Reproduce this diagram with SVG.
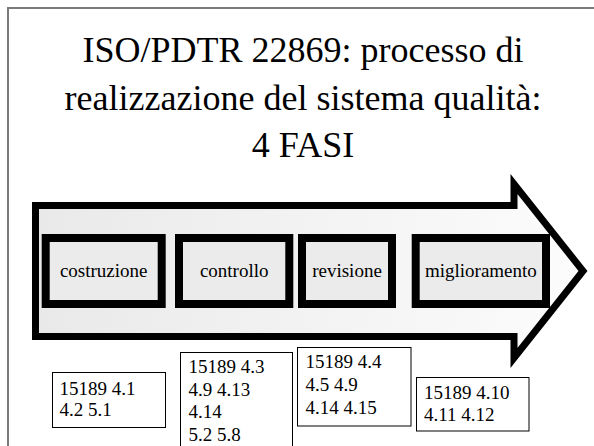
<svg xmlns="http://www.w3.org/2000/svg" width="594" height="446" viewBox="0 0 594 446">
  <defs>
    <linearGradient id="arrowFill" x1="0" y1="0" x2="1" y2="0">
      <stop offset="0" stop-color="#e9e9e9"/>
      <stop offset="1" stop-color="#fcfcfc"/>
    </linearGradient>
  </defs>
  <style>
    text { font-family: 'Liberation Serif', 'DejaVu Serif', serif; fill: #000; }
    .frame { stroke: #7a7a7a; stroke-width: 2; fill: none; }
    .title { font-size: 36px; text-anchor: middle; }
    .phase rect { fill: #ebebeb; stroke: #000; stroke-width: 8; }
    .phase text { font-size: 19px; text-anchor: middle; }
    .ref rect { fill: #fff; stroke: #000; stroke-width: 1; }
    .ref text { font-size: 19px; }
  </style>

  <rect width="594" height="446" fill="#fff"/>

  <!-- slide frame (top and left edges) -->
  <path class="frame" d="M8,446 V8 H594"/>

  <!-- title -->
  <g id="title" font-family="Liberation Serif">
    <text class="title" x="303" y="62">ISO/PDTR 22869: processo di</text>
    <text class="title" x="303" y="110">realizzazione del sistema qualità:</text>
    <text class="title" x="303" y="157">4 FASI</text>
  </g>

  <!-- block arrow carrying the phases -->
  <g id="process-arrow">
    <path d="M35.5,205.5 H514 V184 L583,271 L514,358 V336.5 H35.5 Z" fill="url(#arrowFill)" stroke="#000" stroke-width="7" stroke-linejoin="miter" stroke-miterlimit="10"/>
  </g>

  <!-- phases -->
  <g id="phase-costruzione" class="phase">
    <rect x="45.7" y="238" width="116" height="66"/>
    <text x="103.7" y="277">costruzione</text>
  </g>
  <g id="phase-controllo" class="phase">
    <rect x="179" y="238" width="110.3" height="66"/>
    <text x="234.2" y="277">controllo</text>
  </g>
  <g id="phase-revisione" class="phase">
    <rect x="302" y="238" width="90" height="66"/>
    <text x="347" y="277">revisione</text>
  </g>
  <g id="phase-miglioramento" class="phase">
    <rect x="415.7" y="238" width="130.3" height="66"/>
    <text x="480.9" y="277">miglioramento</text>
  </g>

  <!-- standard clause references -->
  <g id="ref-costruzione" class="ref">
    <rect x="52.5" y="372.5" width="113" height="55"/>
    <text x="59.5" y="395">15189 4.1</text>
    <text x="59.5" y="416">4.2 5.1</text>
  </g>
  <g id="ref-controllo" class="ref">
    <rect x="180.5" y="352.5" width="112" height="100"/>
    <text x="188.5" y="373">15189 4.3</text>
    <text x="188.5" y="395.5">4.9 4.13</text>
    <text x="188.5" y="418">4.14</text>
    <text x="188.5" y="440.5">5.2 5.8</text>
  </g>
  <g id="ref-revisione" class="ref">
    <rect x="297.5" y="347.5" width="113.5" height="78.5"/>
    <text x="305.5" y="367.5">15189 4.4</text>
    <text x="305.5" y="390.5">4.5 4.9</text>
    <text x="305.5" y="413.5">4.14 4.15</text>
  </g>
  <g id="ref-miglioramento" class="ref">
    <rect x="416.5" y="377.5" width="112.5" height="53.5"/>
    <text x="424" y="398.5">15189 4.10</text>
    <text x="424" y="421">4.11 4.12</text>
  </g>
</svg>
